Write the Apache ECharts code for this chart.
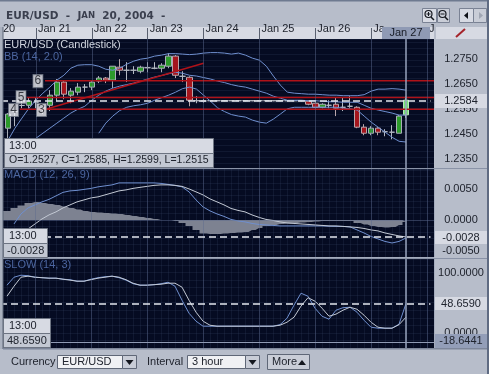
<!DOCTYPE html>
<html>
<head>
<meta charset="utf-8">
<title>EUR/USD</title>
<script src="https://cdn.jsdelivr.net/npm/echarts@6/dist/echarts.min.js"></script>
<style>
  html, body { margin: 0; padding: 0; background: #b7bdca; }
  #chart { width: 489px; height: 374px; }
</style>
</head>
<body>
<div id="chart"></div>
<script>
// open, close, low, high for each 3 hour candle
const candles = [
  [1.2474, 1.2530, 1.2434, 1.2534], [1.2540, 1.2540, 1.2482, 1.2565], [1.2564, 1.2564, 1.2553, 1.2585],
  [1.2565, 1.2582, 1.2553, 1.2597], [1.2577, 1.2577, 1.2553, 1.2597], [1.2554, 1.2554, 1.2530, 1.2570],
  [1.2565, 1.2605, 1.2542, 1.2625], [1.2605, 1.2657, 1.2581, 1.2669], [1.2657, 1.2609, 1.2589, 1.2665],
  [1.2605, 1.2621, 1.2573, 1.2633], [1.2617, 1.2637, 1.2605, 1.2653], [1.2637, 1.2637, 1.2617, 1.2649],
  [1.2637, 1.2657, 1.2625, 1.2665], [1.2661, 1.2673, 1.2653, 1.2681], [1.2673, 1.2665, 1.2653, 1.2677],
  [1.2665, 1.2720, 1.2633, 1.2720], [1.2716, 1.2704, 1.2684, 1.2748], [1.2704, 1.2704, 1.2657, 1.2736],
  [1.2704, 1.2704, 1.2689, 1.2720], [1.2700, 1.2716, 1.2692, 1.2722], [1.2714, 1.2714, 1.2696, 1.2736],
  [1.2712, 1.2712, 1.2708, 1.2736], [1.2712, 1.2724, 1.2696, 1.2732], [1.2720, 1.2760, 1.2712, 1.2772],
  [1.2760, 1.2684, 1.2673, 1.2764], [1.2680, 1.2680, 1.2657, 1.2700], [1.2676, 1.2585, 1.2561, 1.2680],
  [1.2583, 1.2583, 1.2573, 1.2601], [1.2582, 1.2582, 1.2575, 1.2590], [1.2583, 1.2583, 1.2581, 1.2585],
  [1.2583, 1.2583, 1.2581, 1.2585], [1.2583, 1.2583, 1.2581, 1.2585], [1.2583, 1.2583, 1.2581, 1.2585],
  [1.2583, 1.2583, 1.2581, 1.2585], [1.2583, 1.2583, 1.2581, 1.2585], [1.2583, 1.2583, 1.2581, 1.2585],
  [1.2583, 1.2583, 1.2581, 1.2585], [1.2583, 1.2583, 1.2581, 1.2585], [1.2583, 1.2583, 1.2581, 1.2585],
  [1.2583, 1.2583, 1.2581, 1.2585], [1.2583, 1.2583, 1.2581, 1.2585], [1.2583, 1.2583, 1.2581, 1.2585],
  [1.2583, 1.2583, 1.2581, 1.2585], [1.2581, 1.2569, 1.2565, 1.2585], [1.2573, 1.2557, 1.2553, 1.2577],
  [1.2557, 1.2569, 1.2553, 1.2573], [1.2565, 1.2565, 1.2553, 1.2585], [1.2569, 1.2553, 1.2522, 1.2597],
  [1.2557, 1.2557, 1.2542, 1.2597], [1.2561, 1.2561, 1.2555, 1.2601], [1.2557, 1.2478, 1.2474, 1.2561],
  [1.2478, 1.2454, 1.2446, 1.2490], [1.2454, 1.2474, 1.2446, 1.2482], [1.2474, 1.2458, 1.2446, 1.2478],
  [1.2460, 1.2460, 1.2442, 1.2470], [1.2458, 1.2458, 1.2430, 1.2486], [1.2454, 1.2522, 1.2454, 1.2526],
  [1.2527, 1.2585, 1.2515, 1.2599]
]
const bbUpper = [
  1.2426, 1.2474, 1.2514, 1.2553, 1.2585, 1.2613, 1.2637, 1.2665, 1.2684, 1.2712, 1.2724, 1.2726, 1.2726, 1.2720, 1.2708,
  1.2704, 1.2712, 1.2728, 1.2740, 1.2748, 1.2752, 1.2760, 1.2764, 1.2770, 1.2770, 1.2768, 1.2766, 1.2768, 1.2772, 1.2774,
  1.2774, 1.2772, 1.2768, 1.2772, 1.2764, 1.2752, 1.2744, 1.2720, 1.2681, 1.2645, 1.2617, 1.2613, 1.2611, 1.2609, 1.2609,
  1.2607, 1.2605, 1.2605, 1.2603, 1.2603, 1.2603, 1.2607, 1.2621, 1.2629, 1.2629, 1.2631, 1.2629, 1.2625
]
const bbMiddle = [
  null, null, null, null, 1.2434, 1.2454, 1.2474, 1.2494, 1.2514, 1.2534, 1.2549, 1.2561, 1.2585, 1.2605, 1.2621,
  1.2633, 1.2641, 1.2647, 1.2653, 1.2661, 1.2669, 1.2677, 1.2683, 1.2690, 1.2696, 1.2692, 1.2684, 1.2681, 1.2675, 1.2669,
  1.2661, 1.2655, 1.2647, 1.2641, 1.2637, 1.2629, 1.2621, 1.2613, 1.2601, 1.2593, 1.2585, 1.2585, 1.2585, 1.2583, 1.2583,
  1.2581, 1.2579, 1.2579, 1.2577, 1.2577, 1.2577, 1.2565, 1.2553, 1.2546, 1.2540, 1.2534, 1.2526, 1.2526
]
const bbLower = [
  null, null, null, null, null, null, null, null, null, null, null, null, null, 1.2454, 1.2494,
  1.2522, 1.2544, 1.2557, 1.2563, 1.2567, 1.2573, 1.2585, 1.2595, 1.2605, 1.2617, 1.2631, 1.2637, 1.2629, 1.2605, 1.2581,
  1.2555, 1.2540, 1.2528, 1.2522, 1.2518, 1.2506, 1.2498, 1.2494, 1.2510, 1.2530, 1.2551, 1.2557, 1.2557, 1.2557, 1.2557,
  1.2557, 1.2557, 1.2557, 1.2553, 1.2551, 1.2546, 1.2522, 1.2498, 1.2478, 1.2458, 1.2438, 1.2422, 1.2419
]
const macdLine = [
  null, -0.00065, 0.00097, 0.00194, 0.00243, 0.00292, 0.00332, 0.00389, 0.00446, 0.00470, 0.00478, 0.00494, 0.00510, 0.00535, 0.00551,
  0.00567, 0.00599, 0.00599, 0.00599, 0.00599, 0.00599, 0.00599, 0.00591, 0.00575, 0.00559, 0.00535, 0.00454, 0.00324, 0.00211, 0.00146,
  0.00097, 0.00057, 0.00008, -0.00016, -0.00032, -0.00057, -0.00073, -0.00081, -0.00089, -0.00097, -0.00097, -0.00097, -0.00097, -0.00097, -0.00097,
  -0.00097, -0.00102, -0.00105, -0.00105, -0.00113, -0.00162, -0.00211, -0.00267, -0.00308, -0.00348, -0.00373, -0.00348, -0.00292
]
const macdSignal = [
  null, null, null, -0.00146, -0.00065, 0.00016, 0.00081, 0.00130, 0.00194, 0.00243, 0.00292, 0.00324, 0.00356, 0.00373, 0.00405,
  0.00437, 0.00470, 0.00486, 0.00510, 0.00527, 0.00543, 0.00559, 0.00567, 0.00567, 0.00559, 0.00543, 0.00502, 0.00454, 0.00405, 0.00340,
  0.00292, 0.00243, 0.00186, 0.00154, 0.00130, 0.00081, 0.00041, 0.00008, -0.00008, -0.00032, -0.00049, -0.00057, -0.00065, -0.00073, -0.00081,
  -0.00089, -0.00097, -0.00097, -0.00105, -0.00113, -0.00122, -0.00138, -0.00162, -0.00178, -0.00211, -0.00235, -0.00259, -0.00275
]
const macdHist = [
  0.00146, 0.00194, 0.00235, 0.00275, 0.00292, 0.00275, 0.00259, 0.00243, 0.00219, 0.00194, 0.00170, 0.00146, 0.00130, 0.00122, 0.00113,
  0.00105, 0.00097, 0.00081, 0.00065, 0.00049, 0.00032, 0.00016, 0, 0, -0.00016, -0.00049, -0.00097, -0.00162, -0.00219, -0.00227,
  -0.00227, -0.00219, -0.00211, -0.00203, -0.00194, -0.00162, -0.00130, -0.00097, -0.00081, -0.00065, -0.00057, -0.00049, -0.00041, -0.00032, -0.00024,
  -0.00016, -0.00016, -0.00016, -0.00016, -0.00016, -0.00049, -0.00073, -0.00097, -0.00113, -0.00122, -0.00113, -0.00081, -0.00032
]
const slowK = [
  79, 92.2, 95.5, 94.7, 92.2, 91.4, 90.6, 90.6, 88.9, 88.1, 85.6, 85.6, 88.9, 91.4, 93,
  93.9, 91.4, 87.3, 81.4, 79, 79, 79.8, 81.4, 83.9, 77.3, 54.1, 32.6, 19.4, 11.1, 11.1,
  11.1, 11.1, 11.1, 11.1, 11.1, 11.1, 11.1, 11.1, 11.1, 13.6, 24.3, 45.9, 65.7, 60.7, 40.9,
  27.6, 22.7, 37.6, 41.7, 42.5, 34.3, 21, 9.4, 7.8, 7.8, 7.8, 14.4, 48.659
]
const slowD = [
  60.8, 77.3, 92.2, 93.9, 92.2, 91.4, 90.6, 90.6, 88.9, 87.3, 85.6, 85.6, 88.1, 90.6, 92.2,
  93.9, 92.2, 88.1, 82.3, 79, 79, 79.8, 80.6, 82.3, 82.3, 75.7, 54.1, 34.3, 19.4, 12.7,
  11.1, 11.1, 11.1, 11.1, 11.1, 11.1, 11.1, 11.1, 11.1, 12.7, 17.7, 26, 44.4, 58.3, 52.5,
  40.9, 27.6, 31.1, 37.6, 42.5, 39.2, 29.3, 17.7, 9.4, 7.8, 7.8, 13.6, 26
]
// support / resistance levels and the trend line: [x0, y0, x1, y1]
const redLines = [
  [5.3, 1.2662, 61, 1.2662],
  [2.7, 1.2596, 61, 1.2596],
  [1.7, 1.2549, 61, 1.2549],
  [5.4, 1.2549, 28, 1.2732]
]
const lineTags = [[0.79, 1.2546, '4'], [1.86, 1.2597, '5'], [4.29, 1.2661, '6'], [4.79, 1.2546, '3']]
const dayTicks = [4, 12, 20, 28, 36, 44, 52, 60]
const dayLabels = { '-1': '20', 4: 'Jan 21', 12: 'Jan 22', 20: 'Jan 23', 28: 'Jan 24', 36: 'Jan 25', 44: 'Jan 26', 52: 'Ja', 60: 'J' }
const priceTicks = [1.2750, 1.2650, 1.2550, 1.2450, 1.2350]
const macdTicks = [0.0050, 0, -0.0050]
const slowTicks = [100, 0]
const cursorIndex = 57
const lastPrice = 1.2584
const lastMacd = -0.0028
const lastSlow = 48.659
const cursorSlow = -16

const labelFont = '"Liberation Sans", Arial, sans-serif'
const gridLine = 'rgba(72, 88, 125, 0.17)'
const dayLine = 'rgba(90, 105, 140, 0.42)'
const blue = '#6f8fcf'
const pale = '#c3c9d4'

function pairs(list) {
  return list.map((v, i) => [i, v]).filter(p => p[1] !== null)
}

function xAxisFor(gridIndex, top) {
  return {
    type: 'value',
    gridIndex: gridIndex,
    position: top ? 'top' : 'bottom',
    min: -1,
    max: 61,
    interval: 1,
    axisLine: { show: false },
    axisTick: top ? { show: true, customValues: dayTicks, length: 11, lineStyle: { color: '#59606f' } } : { show: false },
    axisLabel: top ? {
      show: true,
      hideOverlap: false,
      showMinLabel: true,
      align: 'left',
      margin: 5,
      padding: [0, 0, 0, 2],
      color: '#20242e',
      fontFamily: labelFont,
      fontSize: 11,
      formatter: v => dayLabels[v] || ''
    } : { show: false },
    splitLine: { show: true, lineStyle: { color: gridLine, width: 1 } }
  }
}

function yAxisFor(gridIndex, min, max, interval, ticks) {
  return {
    type: 'value',
    gridIndex: gridIndex,
    position: 'right',
    min: min,
    max: max,
    interval: interval,
    axisLine: { show: false },
    axisTick: { show: false },
    axisLabel: {
      customValues: ticks,
      align: 'center',
      margin: 27,
      color: '#20242e',
      fontFamily: labelFont,
      fontSize: 11,
      formatter: v => v.toFixed(4)
    },
    splitLine: { show: true, lineStyle: { color: gridLine, width: 1 } }
  }
}

function lineSeries(name, panel, list, color, z) {
  return {
    name: name,
    type: 'line',
    xAxisIndex: panel,
    yAxisIndex: panel,
    data: pairs(list),
    showSymbol: false,
    symbol: 'none',
    silent: true,
    z: z || 3,
    lineStyle: { color: color, width: 1 }
  }
}

// day lines for one panel
function markers(panel, extra) {
  return {
    name: 'markers' + panel,
    type: 'line',
    xAxisIndex: panel,
    yAxisIndex: panel,
    data: [],
    z: 1,
    silent: true,
    markLine: {
      silent: true,
      symbol: 'none',
      animation: false,
      label: { show: false },
      lineStyle: { color: dayLine, width: 1, type: 'solid' },
      data: dayTicks.map(d => ({ xAxis: d })).concat(extra || [])
    }
  }
}

function cursor(panel, dashedValue) {
  return {
    name: 'cursor' + panel,
    type: 'line',
    xAxisIndex: panel,
    yAxisIndex: panel,
    data: [],
    z: 6,
    silent: true,
    markLine: {
      silent: true,
      symbol: 'none',
      animation: false,
      label: { show: false },
      data: [
        { xAxis: cursorIndex, lineStyle: { color: '#97a3bd', width: 1.5, type: 'solid' } },
        [{ coord: [-1, dashedValue] }, { coord: [60.5, dashedValue], lineStyle: { color: '#e4e7ee', width: 1.5, type: [7, 4] } }]
      ]
    }
  }
}

const series = [
  markers(0),
  markers(1, [{ yAxis: 0, lineStyle: { color: dayLine, width: 1, type: 'solid' } }]),
  markers(2, [{ yAxis: cursorSlow, lineStyle: { color: '#8f9ab4', width: 1, type: 'solid' } }]),
  {
    name: 'EUR/USD',
    type: 'candlestick',
    xAxisIndex: 0,
    yAxisIndex: 0,
    barWidth: 6,
    encode: { x: 0, y: [1, 2, 3, 4] },
    z: 2,
    silent: true,
    itemStyle: {
      color: '#2c9a2b',
      color0: '#a5161d',
      borderColor: '#a9aeb8',
      borderColor0: '#b9a6ab',
      borderColorDoji: '#b4b9c3',
      borderWidth: 1
    },
    data: candles.map((c, i) => {
      const item = { value: [i].concat(c) }
      if (i === cursorIndex) item.itemStyle = { color: '#74e274', borderColor: '#b9e6bb' }
      return item
    })
  },
  lineSeries('BB upper', 0, bbUpper, blue),
  lineSeries('BB middle', 0, bbMiddle, blue),
  lineSeries('BB lower', 0, bbLower, blue)
]

redLines.forEach((r, i) => {
  series.push({
    name: 'level' + i,
    type: 'line',
    xAxisIndex: 0,
    yAxisIndex: 0,
    data: [[r[0], r[1]], [r[2], r[3]]],
    symbol: 'none',
    silent: true,
    z: 4,
    lineStyle: { color: '#b01219', width: 1.6 }
  })
})

series.push(
  {
    name: 'tags',
    type: 'scatter',
    xAxisIndex: 0,
    yAxisIndex: 0,
    symbol: 'rect',
    symbolSize: [10, 13],
    silent: true,
    z: 5,
    itemStyle: { color: '#eceef2', borderColor: '#6d7482', borderWidth: 1 },
    label: {
      show: true,
      position: 'inside',
      color: '#15181f',
      fontFamily: labelFont,
      fontSize: 12,
      formatter: p => p.value[2]
    },
    data: lineTags
  },
  cursor(0, lastPrice),
  {
    name: 'MACD hist',
    type: 'line',
    step: 'middle',
    xAxisIndex: 1,
    yAxisIndex: 1,
    symbol: 'none',
    showSymbol: false,
    silent: true,
    z: 2,
    lineStyle: { width: 0 },
    areaStyle: { color: '#7d8291', opacity: 1, origin: 0 },
    data: [[-1, macdHist[0]]].concat(pairs(macdHist))
  },
  lineSeries('MACD', 1, macdLine, blue),
  lineSeries('Signal', 1, macdSignal, pale),
  cursor(1, lastMacd),
  lineSeries('SLOW K', 2, slowK, blue),
  lineSeries('SLOW D', 2, slowD, pale),
  cursor(2, lastSlow)
)

// window chrome around the plots
function box(x, y, w, h, fill, stroke, z) {
  return { type: 'rect', z: z === undefined ? 100 : z, silent: true, shape: { x: x, y: y, width: w, height: h },
    style: { fill: fill, stroke: stroke || null, lineWidth: stroke ? 1 : 0 } }
}
function label(text, x, y, opts) {
  opts = opts || {}
  return { type: 'text', z: 102, silent: true, x: x, y: y,
    style: { text: text, fill: opts.color || '#20242e', align: opts.align || 'left', verticalAlign: 'middle',
      fontFamily: opts.family || labelFont, fontSize: opts.size || 11, fontWeight: opts.weight || 'normal', rich: opts.rich } }
}
function poly(points, fill, stroke, width) {
  return { type: 'polyline', z: 103, silent: true, shape: { points: points }, style: { fill: fill || null, stroke: stroke || null, lineWidth: width || 1 } }
}
function tri(points, fill) {
  return { type: 'polygon', z: 103, silent: true, shape: { points: points }, style: { fill: fill } }
}
function circle(cx, cy, r) {
  return { type: 'circle', z: 103, silent: true, shape: { cx: cx, cy: cy, r: r }, style: { fill: null, stroke: '#15181f', lineWidth: 1.2 } }
}

const chrome = [
  // backgrounds under the axes
  box(0, 0, 489, 374, '#b7bdca', null, -10),
  box(3, 27, 431, 12, '#d7dae3', null, -9),
  // covers
  box(0, 27, 3, 322, '#aab1bf', null, 60),
  box(2.5, 27, 1, 322, '#5d6679', null, 61),
  box(0, 0, 489, 1.5, '#6e7a90', null, 90),
  box(487, 0, 2, 374, '#5f6b82', null, 90),
  box(3, 168, 484, 1, '#8a93a7', null, 62),
  box(3, 258, 484, 1, '#8a93a7', null, 62),
  box(3, 348, 484, 1.5, '#7d869a', null, 62),
  // title
  label('{a|EUR/USD  -  J}{b|AN}{a|  20, 2004  -}', 6, 16, {
    rich: {
      a: { fontFamily: '"DejaVu Sans"', fontWeight: 'bold', fontSize: 10.5, fill: '#3a3f4e', color: '#3a3f4e' },
      b: { fontFamily: '"DejaVu Sans"', fontWeight: 'bold', fontSize: 8.5, fill: '#3a3f4e', color: '#3a3f4e' }
    }
  }),
  // date header cursor + drawing tool cell
  box(382, 27, 48, 12, '#8f9ab4'),
  label('Jan 27', 406, 33, { align: 'center', color: '#171b25' }),
  box(436, 27, 51, 12, '#d7dae3'),
  poly([[456, 37], [465, 29]], null, '#a5232a', 2),
  // panel captions
  label('EUR/USD (Candlestick)', 4, 45, { color: '#d0d5df' }),
  label('BB (14, 2.0)', 4, 57, { color: '#4b659f' }),
  label('MACD (12, 26, 9)', 4, 175, { color: '#4b659f' }),
  label('SLOW (14, 3)', 4, 265, { color: '#4b659f' }),
  // info boxes
  box(4.5, 138.5, 209, 15, '#d7dae3', '#6d7482'),
  box(4.5, 153.5, 209, 14, '#c3c8d3', '#6d7482'),
  label('13:00', 9, 146),
  label('O=1.2527, C=1.2585, H=1.2599, L=1.2515', 9, 160.5, { size: 10.5 }),
  box(3.5, 228.5, 44, 15, '#d7dae3', '#6d7482'),
  box(3.5, 243.5, 44, 14, '#c3c8d3', '#6d7482'),
  label('13:00', 9, 236),
  label('-0.0028', 7, 250.5),
  box(3.5, 318.5, 47, 15, '#d7dae3', '#6d7482'),
  box(3.5, 333.5, 47, 14, '#c3c8d3', '#6d7482'),
  label('13:00', 9, 326),
  label('48.6590', 7, 340.5),
  // value boxes on the right scale
  box(435, 94, 52, 14, '#d7dae3'),
  label('1.2584', 461, 101, { align: 'center' }),
  box(435, 231, 52, 13, '#d7dae3'),
  label('-0.0028', 461, 237.5, { align: 'center' }),
  box(435, 297, 52, 13, '#d7dae3'),
  label('48.6590', 461, 303.5, { align: 'center' }),
  box(435, 334, 52, 14, '#939eb8'),
  label('-18.6441', 461, 341, { align: 'center' }),
  // zoom and scroll buttons
  box(422.5, 8.5, 14, 14, '#d7dae3', '#7a8294'),
  box(437.5, 8.5, 12, 14, '#c9cdd7', '#7a8294'),
  circle(428.5, 14, 3.5), poly([[431, 17], [434, 20]], null, '#15181f', 1.5), poly([[426.5, 14], [430.5, 14]], null, '#15181f'), poly([[428.5, 12], [428.5, 16]], null, '#15181f'),
  circle(442.5, 14, 3.5), poly([[445, 17], [448, 20]], null, '#15181f', 1.5), poly([[440.5, 14], [444.5, 14]], null, '#15181f'),
  box(459.5, 8.5, 14, 14, '#d7dae3', '#7a8294'),
  box(473.5, 8.5, 13, 14, '#c9cdd7', '#7a8294'),
  tri([[464, 15.5], [468, 12], [468, 19]], '#0e1118'),
  tri([[483, 15.5], [479, 12], [479, 19]], '#a0a6b3'),
  // toolbar
  label('Currency', 11, 361.5),
  box(57.5, 355.5, 65, 13, '#f0f1f4', '#5f6777'),
  label('EUR/USD', 62, 362),
  box(122.5, 355.5, 14, 13, '#c9cdd7', '#5f6777'),
  tri([[125.5, 360], [133.5, 360], [129.5, 365]], '#15181f'),
  label('Interval', 147, 361.5),
  box(187.5, 355.5, 58, 13, '#f0f1f4', '#5f6777'),
  label('3 hour', 192, 362),
  box(245.5, 355.5, 14, 13, '#c9cdd7', '#5f6777'),
  tri([[248.5, 360], [256.5, 360], [252.5, 365]], '#15181f'),
  box(267.5, 354.5, 42, 15, '#c9cdd7', '#5f6777'),
  label('More', 272, 362),
  tri([[298, 365], [306, 365], [302, 360]], '#15181f')
]

const chart = echarts.init(document.getElementById('chart'), null, { renderer: 'canvas' })
chart.setOption({
  animation: false,
  backgroundColor: '#b7bdca',
  grid: [
    { left: 0, top: 39, width: 434, height: 130, show: true, backgroundColor: '#050b22', borderWidth: 0 },
    { left: 0, top: 169, width: 434, height: 88, show: true, backgroundColor: '#050b22', borderWidth: 0 },
    { left: 0, top: 259, width: 434, height: 89, show: true, backgroundColor: '#050b22', borderWidth: 0 }
  ],
  xAxis: [xAxisFor(0, true), xAxisFor(1, false), xAxisFor(2, false)],
  yAxis: [
    yAxisFor(0, 1.2312, 1.2828, 0.0024, priceTicks),
    yAxisFor(1, -0.006, 0.00824, 0.001, macdTicks),
    yAxisFor(2, -25, 122.35, 12.5, slowTicks)
  ],
  series: series,
  graphic: { elements: chrome }
})
</script>
</body>
</html>
